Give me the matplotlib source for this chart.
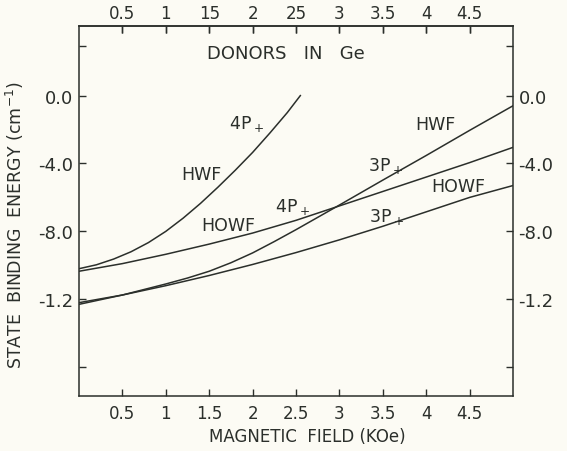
import numpy as np
import matplotlib
matplotlib.use('Agg')
import matplotlib.pyplot as plt

# -------------------------------
# Data
# -------------------------------
field = [0, 0.5, 1.0, 1.5, 2.0, 2.5, 3.0, 3.5, 4.0, 4.5, 5.0]

# HWF 4P+ (steep curve, ends at 0.0 near 2.55 KOe)
hwf_4p_x = [0, 0.2, 0.4, 0.6, 0.8, 1.0, 1.2, 1.4, 1.6, 1.8, 2.0, 2.2, 2.4, 2.55]
hwf_4p_y = [-10.2, -9.97, -9.63, -9.2, -8.66, -8.0, -7.22, -6.35, -5.4, -4.4, -3.35, -2.2, -1.0, 0.0]

# HWF 3P+
hwf_3p_x = [0, 0.5, 1.0, 1.25, 1.5, 1.75, 2.0, 2.25, 2.5, 3.0, 3.5, 4.0, 4.5, 5.0]
hwf_3p_y = [-12.2, -11.75, -11.1, -10.75, -10.35, -9.85, -9.27, -8.6, -7.9, -6.45, -4.98, -3.53, -2.05, -0.6]

# HOWF 4P+ and HOWF 3P+
howf_4p_y = [-10.35, -9.9, -9.35, -8.75, -8.1, -7.35, -6.5, -5.65, -4.8, -3.95, -3.05]
howf_3p_y = [-12.3, -11.75, -11.2, -10.6, -9.95, -9.25, -8.5, -7.7, -6.85, -6.0, -5.3]

x_ticks = [0.5, 1, 1.5, 2, 2.5, 3, 3.5, 4, 4.5]
x_bottom_labels = ['0.5', '1', '1.5', '2', '2.5', '3', '3.5', '4', '4.5']
x_top_labels = ['0.5', '1', '15', '2', '25', '3', '3.5', '4', '4.5']
y_ticks = [2.9, 0, -4, -8, -12, -16]
y_labels = ['', '0.0', '-4.0', '-8.0', '-1.2', '']

# curve labels: (text, x, y)
curve_labels = [
    ('4P$_+$', 1.93, -1.6),
    ('HWF', 1.41, -4.6),
    ('HOWF', 1.72, -7.6),
    ('4P$_+$', 2.46, -6.5),
    ('HWF', 4.11, -1.7),
    ('3P$_+$', 3.53, -4.1),
    ('HOWF', 4.37, -5.35),
    ('3P$_+$', 3.54, -7.1),
]

bg = '#fcfbf4'
ink = '#2b2f2b'

plt.rcParams['font.family'] = ['DejaVu Sans']
plt.rcParams['mathtext.default'] = 'regular'

fig = plt.figure(figsize=(5.67, 4.52), dpi=100, facecolor=bg)
ax = fig.add_axes([79/567, 1 - 397/452, (513 - 79)/567, (397 - 27)/452])
ax.set_facecolor(bg)

ax.plot(hwf_4p_x, hwf_4p_y, color=ink, lw=1.1)
ax.plot(hwf_3p_x, hwf_3p_y, color=ink, lw=1.1)
ax.plot(field, howf_4p_y, color=ink, lw=1.1)
ax.plot(field, howf_3p_y, color=ink, lw=1.1)

ax.set_xlim(0, 5.0)
ax.set_ylim(-17.7, 4.1)

# ticks inward on all four sides
ax.set_xticks(x_ticks)
ax.set_xticklabels(x_bottom_labels)
ax.set_yticks(y_ticks)
ax.set_yticklabels(y_labels)
ax.tick_params(direction='in', length=5, width=1, color=ink, labelcolor=ink,
               top=True, right=True, labelright=True)
ax.tick_params(axis='x', labelsize=12, pad=6)
ax.tick_params(axis='y', labelsize=13, pad=4)

top = ax.secondary_xaxis('top')
top.set_xticks(x_ticks)
top.set_xticklabels(x_top_labels)
top.tick_params(direction='in', length=5, width=1, color=ink, labelcolor=ink,
                labelsize=12, pad=3)

for sp in list(ax.spines.values()) + [top.spines['top']]:
    sp.set_color(ink)
    sp.set_linewidth(1.1)

for txt, x, y in curve_labels:
    ax.text(x, y, txt, ha='center', va='center', fontsize=12.5, color=ink)

ax.text(1.48, 2.5, 'DONORS   IN   Ge', ha='left', va='center', fontsize=13, color=ink)

fig.text(15/567, 1 - 225/452, 'STATE  BINDING  ENERGY (cm$^{-1}$)', rotation=90,
         ha='center', va='center', fontsize=12.5, color=ink)
fig.text(307/567, 1 - 437/452, 'MAGNETIC  FIELD (KOe)', ha='center', va='center',
         fontsize=12, color=ink)

fig.savefig('out.png', dpi=100, facecolor=bg)
